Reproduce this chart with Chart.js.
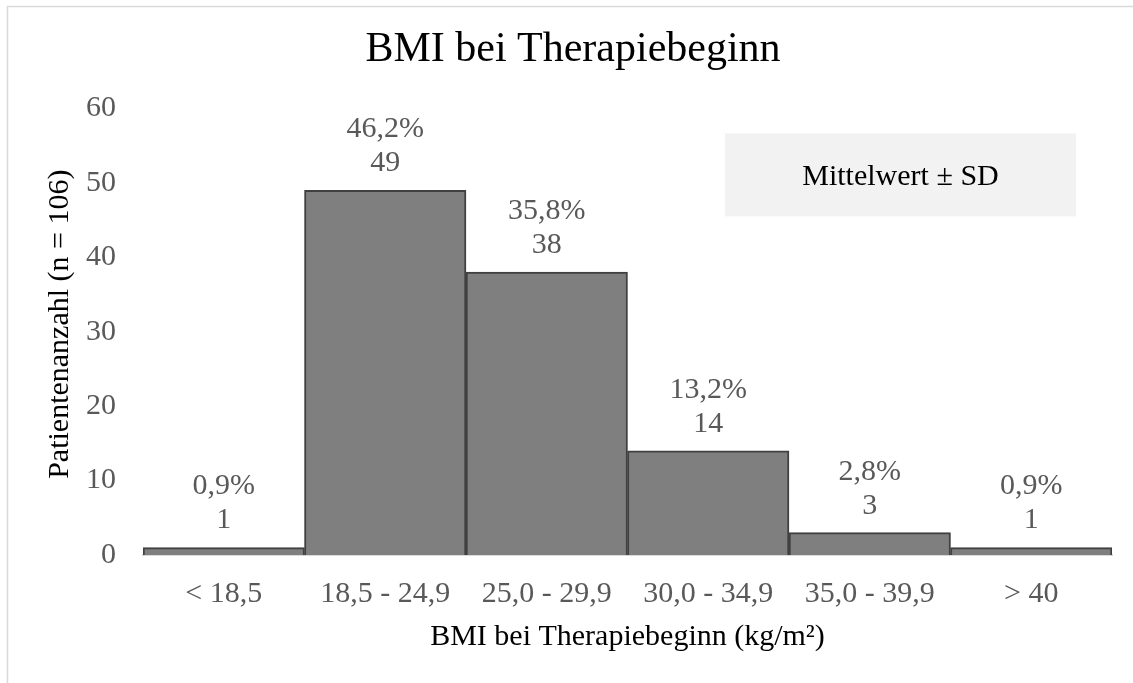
<!DOCTYPE html>
<html>
<head>
<meta charset="utf-8">
<script src="https://cdn.jsdelivr.net/npm/chart.js@4/dist/chart.umd.min.js"></script>
<style>
  html, body { margin: 0; padding: 0; background: #fff; }
  canvas { display: block; }
</style>
</head>
<body>
<canvas id="bmiChart" width="1133" height="683"></canvas>
<script>
// Daten aus der Abbildung
const categories = ['< 18,5', '18,5 - 24,9', '25,0 - 29,9', '30,0 - 34,9', '35,0 - 39,9', '> 40'];
const counts = [1, 49, 38, 14, 3, 1];
const percentLabels = ['0,9%', '46,2%', '35,8%', '13,2%', '2,8%', '0,9%'];
const yTicks = [0, 10, 20, 30, 40, 50, 60];

const serif = '"Liberation Serif", "Times New Roman", serif';

// Rahmen um das Diagramm (oben/links sichtbar)
const framePlugin = {
    id: 'frame',
    beforeDraw(chart) {
        const c = chart.ctx;
        c.save();
        c.fillStyle = '#fff';
        c.fillRect(0, 0, chart.width, chart.height);
        c.strokeStyle = '#d9d9d9';
        c.lineWidth = 1.5;
        c.strokeRect(7.5, 6.5, chart.width + 20, chart.height + 20);
        c.restore();
    }
};

// Beschriftung über den Balken: Prozent + Anzahl
const barLabels = {
    id: 'barLabels',
    afterDatasetsDraw(chart) {
        const c = chart.ctx;
        const meta = chart.getDatasetMeta(0);
        c.save();
        c.font = '30px ' + serif;
        c.fillStyle = '#595959';
        c.textAlign = 'center';
        c.textBaseline = 'middle';
        meta.data.forEach(function(bar, i) {
            c.fillText(String(counts[i]), bar.x, bar.y - 27);
            c.fillText(percentLabels[i], bar.x, bar.y - 61);
        });
        c.restore();
    }
};

// Textfeld "Mittelwert ± SD"
const infoBox = {
    id: 'infoBox',
    afterDraw(chart) {
        const c = chart.ctx;
        const a = chart.chartArea;
        const x = a.right - 387, y = a.top + 25, w = 351, h = 83;
        c.save();
        c.fillStyle = '#f2f2f2';
        c.fillRect(x, y, w, h);
        c.font = '30px ' + serif;
        c.fillStyle = '#000';
        c.textAlign = 'center';
        c.textBaseline = 'middle';
        c.fillText('Mittelwert \u00b1 SD', x + w / 2, y + h / 2 + 2);
        c.restore();
    }
};

const ctx = document.getElementById('bmiChart');

new Chart(ctx, {
    type: 'bar',
    data: {
        labels: categories,
        datasets: [{
            data: counts,
            backgroundColor: '#7f7f7f',
            borderColor: '#404040',
            borderWidth: 2,
            barPercentage: 1,
            categoryPercentage: 1
        }]
    },
    options: {
        responsive: false,
        animation: false,
        layout: { padding: { top: 0, left: 34, right: 21, bottom: 0 } },
        scales: {
            x: {
                grid: { display: false, drawTicks: false },
                border: { display: true, color: '#d9d9d9', width: 2 },
                ticks: {
                    color: '#595959',
                    font: { family: serif, size: 30 },
                    padding: 21,
                    maxRotation: 0,
                    autoSkip: false
                },
                title: {
                    display: true,
                    text: 'BMI bei Therapiebeginn (kg/m\u00b2)',
                    color: '#000',
                    font: { family: serif, size: 30 },
                    padding: { top: 0, bottom: 28 }
                },
                afterFit(scale) { scale.height = 128; }
            },
            y: {
                min: 0,
                max: 60,
                grid: { display: false, drawTicks: false },
                border: { display: false },
                afterBuildTicks(scale) {
                    scale.ticks = yTicks.map(function(v) { return { value: v }; });
                },
                ticks: {
                    color: '#595959',
                    font: { family: serif, size: 30 },
                    padding: 27
                },
                title: {
                    display: true,
                    text: '\u2002Patientenanzahl (n = 106)',
                    color: '#000',
                    font: { family: serif, size: 30 },
                    padding: { top: 8, bottom: 0 }
                },
                afterFit(scale) { scale.width = 109; }
            }
        },
        plugins: {
            legend: { display: false },
            tooltip: { enabled: false },
            title: {
                display: true,
                text: 'BMI bei Therapiebeginn',
                color: '#000',
                font: { family: serif, size: 42, weight: 'normal' },
                padding: { top: 25, bottom: 33 }
            }
        }
    },
    plugins: [framePlugin, barLabels, infoBox]
});
</script>
</body>
</html>
